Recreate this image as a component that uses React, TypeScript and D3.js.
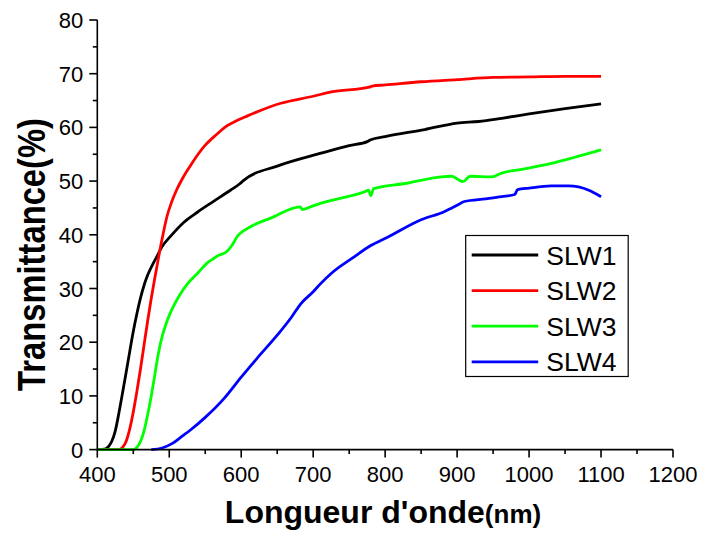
import React, { useRef, useEffect } from 'react';
import * as d3 from 'd3';

// ── Data (wavelength nm, transmittance %) ─────────────────────────────────────
const SLW1: [number, number][] = [
  [400, 0], [410, 0.1], [415, 0.5], [420, 1.5], [425, 3.5], [430, 6.8], [435, 10.5], [440, 14.3],
  [445, 18.2], [450, 22], [455, 25.3], [460, 28.2], [465, 30.6], [470, 32.5], [477, 34.5], [483, 36],
  [490, 37.8], [501, 39.6], [520, 42.3], [539, 44.2], [560, 46.1], [585, 48.3], [598, 49.5], [603, 50.1],
  [650, 52.8], [711, 55.2], [750, 56.6], [776, 57.4], [780, 57.7], [800, 58.3], [855, 59.6], [900, 60.8],
  [930, 61.1], [962, 61.7], [1000, 62.5], [1050, 63.5], [1100, 64.4],
];

const SLW2: [number, number][] = [
  [400, 0], [430, 0], [435, 0.4], [440, 1.5], [445, 3.8], [450, 7], [455, 10.8], [460, 15], [465, 19.5],
  [470, 24], [475, 28.2], [480, 32], [485, 35.7], [490, 39.2], [497, 43.5], [503, 46], [510, 48.3],
  [518, 50.4], [530, 53], [540, 55], [550, 56.7], [560, 58], [570, 59.2], [578, 60.1], [590, 61],
  [608, 62.1], [655, 64.5], [700, 65.8], [725, 66.6], [778, 67.5], [782, 67.7], [800, 67.9], [850, 68.5],
  [900, 68.9], [950, 69.3], [1000, 69.4], [1050, 69.5], [1100, 69.5],
];

const SLW3: [number, number][] = [
  [400, 0], [450, 0], [455, 0.4], [460, 1.5], [465, 3.5], [470, 6.5], [475, 10], [480, 14], [485, 18],
  [490, 21], [495, 23.2], [500, 25], [507, 27], [515, 28.9], [525, 30.8], [539, 32.8], [555, 35],
  [562, 35.6], [566, 36], [580, 36.9], [587, 38], [594, 39.6], [613, 41.5], [641, 43.1], [682, 45.2],
  [685, 44.7], [700, 45.4], [711, 45.9], [771, 48], [777, 48.3], [780, 47.3], [784, 48.6], [830, 49.6],
  [878, 50.8], [892, 50.9], [908, 49.9], [918, 50.9], [948, 50.8], [962, 51.5], [990, 52.2],
  [1031, 53.3], [1060, 54.3], [1100, 55.8],
];

const SLW4: [number, number][] = [
  [475, 0], [490, 0.3], [505, 1.2], [518, 2.5], [529, 3.6], [550, 6], [576, 9.5], [600, 13.5],
  [622, 17], [650, 21.3], [669, 24.5], [683, 27.2], [700, 29.4], [711, 31], [725, 32.8], [757, 35.9],
  [780, 38], [804, 39.6], [850, 42.8], [882, 44.3], [900, 45.5], [910, 46.2], [940, 46.7], [962, 47.1],
  [980, 47.5], [984, 48.4], [1000, 48.7], [1031, 49.1], [1055, 49.1], [1083, 48.3], [1100, 47.1],
];

const SERIES_NAMES = ['SLW1', 'SLW2', 'SLW3', 'SLW4'];
const SERIES_DATA = [SLW1, SLW2, SLW3, SLW4];
const SERIES_COLORS = ['#000000', '#ff0000', '#00ff00', '#0000ff'];

const X_TICKS = [400, 500, 600, 700, 800, 900, 1000, 1100, 1200];
const Y_TICKS = [0, 10, 20, 30, 40, 50, 60, 70, 80];

const FONT = '"Liberation Sans", Arial, Helvetica, sans-serif';

export default function App() {
  const svgRef = useRef<SVGSVGElement>(null);

  useEffect(() => {
    if (!svgRef.current) return;
    const W = 701, H = 538;
    const M = { top: 20, left: 97.3, right: 28, bottom: 88.4 };
    const innerW = W - M.left - M.right;
    const innerH = H - M.top - M.bottom;

    const x = d3.scaleLinear().domain([400, 1200]).range([0, innerW]);
    const y = d3.scaleLinear().domain([0, 80]).range([innerH, 0]);

    const svg = d3.select(svgRef.current);
    svg.selectAll('*').remove();
    svg.attr('width', W).attr('height', H);
    svg.append('rect').attr('width', W).attr('height', H).attr('fill', '#fff');

    const g = svg.append('g').attr('transform', `translate(${M.left},${M.top})`);

    // ── Curves ────────────────────────────────────────────────────────────────
    const line = d3.line<[number, number]>()
      .x(d => x(d[0])).y(d => y(d[1]))
      .curve(d3.curveMonotoneX);

    SERIES_DATA.forEach((data, i) => {
      g.append('path')
        .attr('d', line(data) as string)
        .attr('fill', 'none')
        .attr('stroke', SERIES_COLORS[i])
        .attr('stroke-width', 2.8)
        .attr('stroke-linejoin', 'round');
    });

    // ── Axes ──────────────────────────────────────────────────────────────────
    const xMinor = d3.range(450, 1200, 100);
    const yMinor = d3.range(5, 80, 10);

    const xAx = g.append('g').attr('transform', `translate(0,${innerH})`);
    xAx.append('line').attr('x1', 0).attr('x2', innerW).attr('stroke', '#000').attr('stroke-width', 1.6);
    X_TICKS.forEach(t => {
      xAx.append('line').attr('x1', x(t)).attr('x2', x(t)).attr('y1', 0).attr('y2', 8)
        .attr('stroke', '#000').attr('stroke-width', 1.6);
      xAx.append('text').attr('x', x(t)).attr('y', 32)
        .attr('text-anchor', 'middle').attr('font-family', FONT).attr('font-size', 22)
        .attr('fill', '#000').text(t);
    });
    xMinor.forEach(t => {
      xAx.append('line').attr('x1', x(t)).attr('x2', x(t)).attr('y1', 0).attr('y2', 4.5)
        .attr('stroke', '#000').attr('stroke-width', 1.6);
    });

    const yAx = g.append('g');
    yAx.append('line').attr('y1', 0).attr('y2', innerH).attr('stroke', '#000').attr('stroke-width', 1.6);
    Y_TICKS.forEach(t => {
      yAx.append('line').attr('x1', -8).attr('x2', 0).attr('y1', y(t)).attr('y2', y(t))
        .attr('stroke', '#000').attr('stroke-width', 1.6);
      yAx.append('text').attr('x', -14).attr('y', y(t) + 8)
        .attr('text-anchor', 'end').attr('font-family', FONT).attr('font-size', 22)
        .attr('fill', '#000').text(t);
    });
    yMinor.forEach(t => {
      yAx.append('line').attr('x1', -4.5).attr('x2', 0).attr('y1', y(t)).attr('y2', y(t))
        .attr('stroke', '#000').attr('stroke-width', 1.6);
    });

    // ── Axis titles ───────────────────────────────────────────────────────────
    const xt = svg.append('text').attr('x', 383).attr('y', 523)
      .attr('text-anchor', 'middle').attr('font-family', FONT).attr('font-weight', 'bold')
      .attr('fill', '#000');
    xt.append('tspan').attr('font-size', 32).text("Longueur d'onde");
    xt.append('tspan').attr('font-size', 26).text('(nm)');

    // y title is tall but compressed along its length in the original
    svg.append('text')
      .attr('transform', 'translate(45,254.5) scale(1,0.84) rotate(-90)')
      .attr('text-anchor', 'middle').attr('font-family', FONT).attr('font-weight', 'bold')
      .attr('font-size', 39).attr('fill', '#000')
      .text('Transmittance(%)');

    // ── Legend ────────────────────────────────────────────────────────────────
    const lg = svg.append('g').attr('transform', 'translate(465.7,235.5)');
    lg.append('rect').attr('width', 162.5).attr('height', 141)
      .attr('fill', '#fff').attr('stroke', '#000').attr('stroke-width', 1.2);
    SERIES_NAMES.forEach((name, i) => {
      const ry = 19.5 + i * 35.6;
      lg.append('line').attr('x1', 6).attr('x2', 72.5).attr('y1', ry).attr('y2', ry)
        .attr('stroke', SERIES_COLORS[i]).attr('stroke-width', 2.8);
      lg.append('text').attr('x', 80.5).attr('y', ry + 9.5)
        .attr('font-family', FONT).attr('font-size', 26.5).attr('fill', '#000').text(name);
    });
  }, []);

  return (
    <svg ref={svgRef} style={{ position: 'absolute', left: 0, top: 0, display: 'block' }} />
  );
}
